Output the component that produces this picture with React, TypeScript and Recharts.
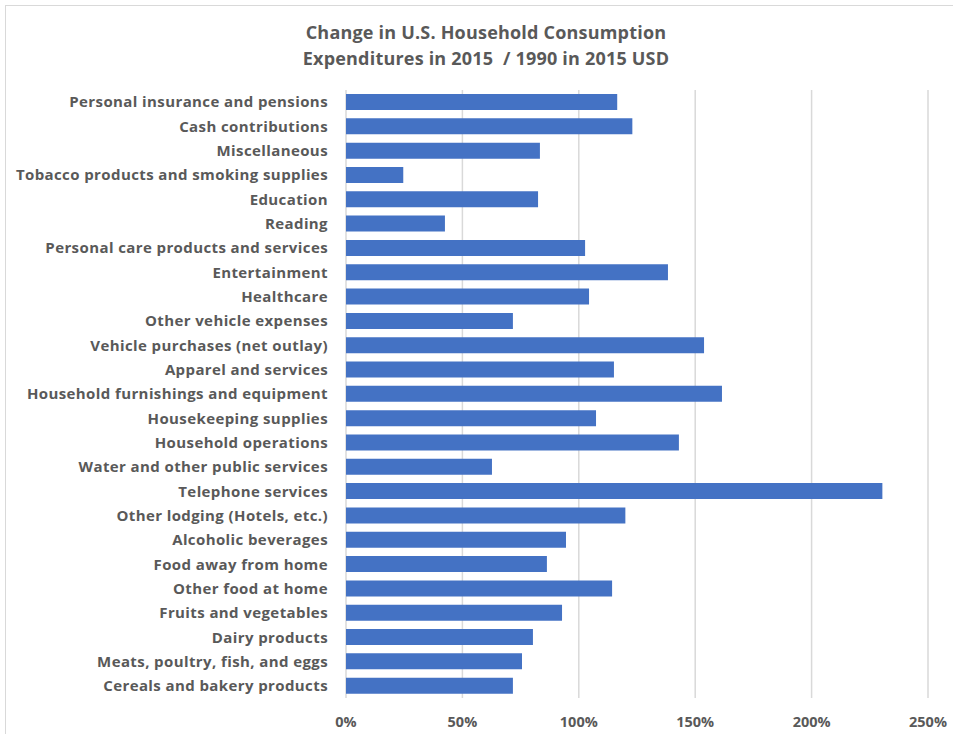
import React from 'react';
import { BarChart, Bar, XAxis, YAxis, CartesianGrid } from 'recharts';

const categories = [
  'Personal insurance and pensions',
  'Cash contributions',
  'Miscellaneous',
  'Tobacco products and smoking supplies',
  'Education',
  'Reading',
  'Personal care products and services',
  'Entertainment',
  'Healthcare',
  'Other vehicle expenses',
  'Vehicle purchases (net outlay)',
  'Apparel and services',
  'Household furnishings and equipment',
  'Housekeeping supplies',
  'Household operations',
  'Water and other public services',
  'Telephone services',
  'Other lodging (Hotels, etc.)',
  'Alcoholic beverages',
  'Food away from home',
  'Other food at home',
  'Fruits and vegetables',
  'Dairy products',
  'Meats, poultry, fish, and eggs',
  'Cereals and bakery products',
];

const changeValues = [
  1.165, 1.23, 0.833, 0.246, 0.825, 0.425, 1.027, 1.383, 1.044, 0.717,
  1.538, 1.151, 1.615, 1.074, 1.43, 0.627, 2.304, 1.2, 0.945, 0.863,
  1.143, 0.928, 0.803, 0.756, 0.717,
];

const xTicks = [0, 0.5, 1, 1.5, 2, 2.5];

const data = categories.map((name, i) => ({ name, value: changeValues[i] }));

const FONT = '"Open Sans", Lato, sans-serif';
const GREY = '#595959';

export default function App() {
  return (
    <div style={{ position: 'absolute', left: 0, top: 0, width: 953, height: 734, background: '#fff', fontFamily: FONT }}>
      <div style={{ position: 'absolute', left: 5, top: 5, width: 948, height: 729, borderLeft: '1.5px solid #d9d9d9', borderTop: '1.5px solid #d9d9d9' }} />
      <div style={{ position: 'absolute', left: 0, top: 19, width: 972, textAlign: 'center', color: GREY, fontWeight: 700, fontSize: 18, letterSpacing: 0.2, lineHeight: '26px' }}>
        <div>Change in U.S. Household Consumption</div>
        <div>Expenditures in 2015&nbsp; / 1990 in 2015 USD</div>
      </div>
      <div style={{ position: 'absolute', left: 0, top: 0 }}>
        <BarChart
          width={953}
          height={734}
          data={data}
          layout="vertical"
          margin={{ top: 90, right: 25, left: 0, bottom: 6 }}
        >
          <CartesianGrid horizontal={false} stroke="#d9d9d9" strokeWidth={1.5} />
          <XAxis
            type="number"
            domain={[0, 2.5]}
            ticks={xTicks}
            height={30}
            tickFormatter={(v: number) => `${Math.round(v * 100)}%`}
            axisLine={false}
            tickLine={false}
            tickMargin={13}
            tick={{ fill: GREY, fontSize: 14.5, fontWeight: 700, fontFamily: FONT }}
          />
          <YAxis
            type="category"
            dataKey="name"
            width={346}
            axisLine={false}
            tickLine={false}
            tickMargin={12}
            interval={0}
            tick={{ fill: GREY, fontSize: 15, fontWeight: 700, fontFamily: FONT, letterSpacing: 0.4 }}
          />
          <Bar dataKey="value" fill="#4472C4" barSize={16} isAnimationActive={false} />
        </BarChart>
      </div>
    </div>
  );
}
